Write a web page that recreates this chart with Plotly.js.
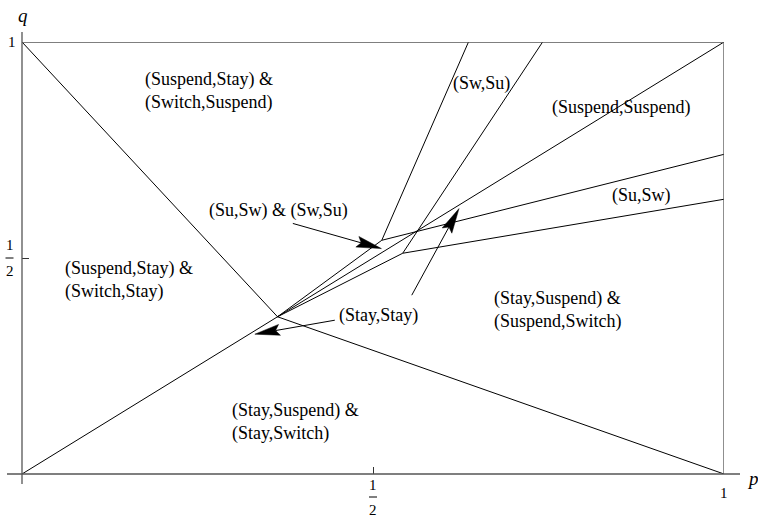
<!DOCTYPE html>
<html>
<head>
<meta charset="utf-8">
<script src="https://cdn.plot.ly/plotly-3.0.1.min.js"></script>
<style>html,body{margin:0;padding:0;background:#fff;}#chart{width:758px;height:519px;}</style>
</head>
<body>
<div id="chart"></div>
<script>
// ---- Data (region boundaries in (p, q) coordinates) ----
var kinkP = 0.364, kinkQ = 0.364;
var boundaryAP = [0, kinkP, 1];            var boundaryAQ = [1, kinkQ, 0];
var diagonalP = [0, 1];                    var diagonalQ = [0, 1];
var swsuLeftP = [kinkP, 0.5125, 0.636];    var swsuLeftQ = [kinkQ, 0.541, 1];
var suswUpperP = [0.5125, 1];              var suswUpperQ = [0.541, 0.740];
var swsuRightP = [kinkP, 0.5423, 0.7416];  var swsuRightQ = [kinkQ, 0.511, 1];
var suswLowerP = [0.5423, 1];              var suswLowerQ = [0.511, 0.636];
var frameP = [0, 1, 1];                    var frameQ = [1, 1, 0];

// region labels
var labelText = [
  "(Suspend,Stay) &<br>(Switch,Suspend)",
  "(Sw,Su)",
  "(Suspend,Suspend)",
  "(Su,Sw) & (Sw,Su)",
  "(Su,Sw)",
  "(Suspend,Stay) &<br>(Switch,Stay)",
  "(Stay,Stay)",
  "(Stay,Suspend) &<br>(Suspend,Switch)",
  "(Stay,Suspend) &<br>(Stay,Switch)"
];
var labelP = [0.1722, 0.6548, 0.7516, 0.4669, 0.8826, 0.0584, 0.5082, 0.669, 0.2961];
var labelQ = [0.8855, 0.904, 0.8486, 0.6104, 0.6451, 0.4486, 0.3676, 0.3792, 0.1202];
var labelAnchor = ["left", "center", "left", "right", "center", "left", "center", "left", "left"];

// arrows: tail -> head
var arrowTailP = [0.3858, 0.4456, 0.5552];
var arrowTailQ = [0.580, 0.356, 0.4139];
var arrowHeadP = [0.512, 0.3317, 0.6225];
var arrowHeadQ = [0.5218, 0.3237, 0.6143];

// ticks
var tickVals = [0.5];
var axisTitleX = "p", axisTitleY = "q";

// ---- Layout constants ----
var W = 758, H = 519;
var M = {l: 22, r: 34, t: 42, b: 45, pad: 0};
var sx = W - M.l - M.r, sy = H - M.t - M.b;
var serif = "Liberation Serif, Times New Roman, serif";
var lineStyle = {color: "#000", width: 1};

function seg(p, q) {
  return {x: p, y: q, mode: "lines", type: "scatter", line: lineStyle,
          hoverinfo: "skip", showlegend: false, cliponaxis: false};
}
var traces = [
  seg(boundaryAP, boundaryAQ), seg(diagonalP, diagonalQ),
  seg(swsuLeftP, swsuLeftQ), seg(suswUpperP, suswUpperQ),
  seg(swsuRightP, swsuRightQ), seg(suswLowerP, suswLowerQ)
];

// arrows built from tail/head arrays (head geometry in pixels)
var headLen = 25, headHalf = 5.5, notch = 4;
for (var i = 0; i < arrowTailP.length; i++) {
  var dx = (arrowHeadP[i] - arrowTailP[i]) * sx;
  var dy = (arrowHeadQ[i] - arrowTailQ[i]) * sy;
  var len = Math.sqrt(dx * dx + dy * dy);
  var ux = dx / len, uy = dy / len, nx = -uy, ny = ux;
  var hx = arrowHeadP[i] * sx, hy = arrowHeadQ[i] * sy;
  var bx = hx - headLen * ux, by = hy - headLen * uy;
  var kx = hx - (headLen - notch) * ux, ky = hy - (headLen - notch) * uy;
  var c1x = bx + headHalf * nx, c1y = by + headHalf * ny;
  var c2x = bx - headHalf * nx, c2y = by - headHalf * ny;
  traces.push(seg([arrowTailP[i], kx / sx], [arrowTailQ[i], ky / sy]));
  traces.push({
    x: [hx / sx, c1x / sx, kx / sx, c2x / sx, hx / sx],
    y: [hy / sy, c1y / sy, ky / sy, c2y / sy, hy / sy],
    mode: "lines", fill: "toself", fillcolor: "#000", type: "scatter",
    line: {color: "#000", width: 0.5}, hoverinfo: "skip", showlegend: false, cliponaxis: false
  });
}

var annotations = [];
for (var j = 0; j < labelText.length; j++) {
  annotations.push({
    x: labelP[j], y: labelQ[j], xref: "x", yref: "y", text: labelText[j],
    showarrow: false, xanchor: labelAnchor[j], yanchor: "middle", align: "left",
    font: {family: serif, size: 18, color: "#000"}
  });
}
function px2paperX(v) { return (v - M.l) / sx; }
function px2paperY(v) { return (H - M.b - v) / sy; }
var tickFont = {family: serif, size: 15, color: "#000"};
function txt(xp, yp, t, f) {
  annotations.push({x: xp, y: yp, xref: "paper", yref: "paper", text: t, showarrow: false,
                    xanchor: "center", yanchor: "middle", font: f || tickFont});
}
// y tick labels
txt(px2paperX(12), 1, "1");
txt(px2paperX(9.5), px2paperY(245), "1");
txt(px2paperX(9.5), px2paperY(271), "2");
// x tick labels
txt(1, px2paperY(493), "1");
txt(0.5, px2paperY(485), "1");
txt(0.5, px2paperY(510), "2");
// axis titles
var titleFont = {family: serif, size: 19, color: "#000", style: "italic"};
txt(px2paperX(23), px2paperY(15), "<i>" + axisTitleY + "</i>", titleFont);
txt(px2paperX(753), px2paperY(478), "<i>" + axisTitleX + "</i>", titleFont);

var axisColor = "#555";
var shapes = [
  {type: "line", xref: "paper", yref: "paper", x0: px2paperX(7), x1: px2paperX(740), y0: 0, y1: 0,
   line: {color: axisColor, width: 1.3}},
  {type: "line", xref: "paper", yref: "paper", x0: 0, x1: 0, y0: px2paperY(484), y1: px2paperY(32),
   line: {color: axisColor, width: 1.3}},
  // fraction bars
  {type: "line", xref: "paper", yref: "paper", x0: px2paperX(5.5), x1: px2paperX(13.5),
   y0: px2paperY(258), y1: px2paperY(258), line: {color: "#000", width: 1}},
  {type: "line", xref: "paper", yref: "paper", x0: px2paperX(369), x1: px2paperX(377),
   y0: px2paperY(497), y1: px2paperY(497), line: {color: "#000", width: 1}}
];
traces.push({x: frameP, y: frameQ, mode: "lines", type: "scatter",
             line: {color: axisColor, width: 1.3}, hoverinfo: "skip", showlegend: false, cliponaxis: false});

var axisCommon = {range: [0, 1], showgrid: false, zeroline: false, showline: false,
                  ticks: "inside", tickvals: tickVals, ticklen: 7, tickwidth: 1, tickcolor: "#333",
                  showticklabels: false, fixedrange: true};
var layout = {
  width: W, height: H, margin: M,
  paper_bgcolor: "#fff", plot_bgcolor: "#fff",
  xaxis: Object.assign({}, axisCommon),
  yaxis: Object.assign({}, axisCommon),
  showlegend: false, annotations: annotations, shapes: shapes
};
Plotly.newPlot("chart", traces, layout, {staticPlot: true, displayModeBar: false});
</script>
</body>
</html>
